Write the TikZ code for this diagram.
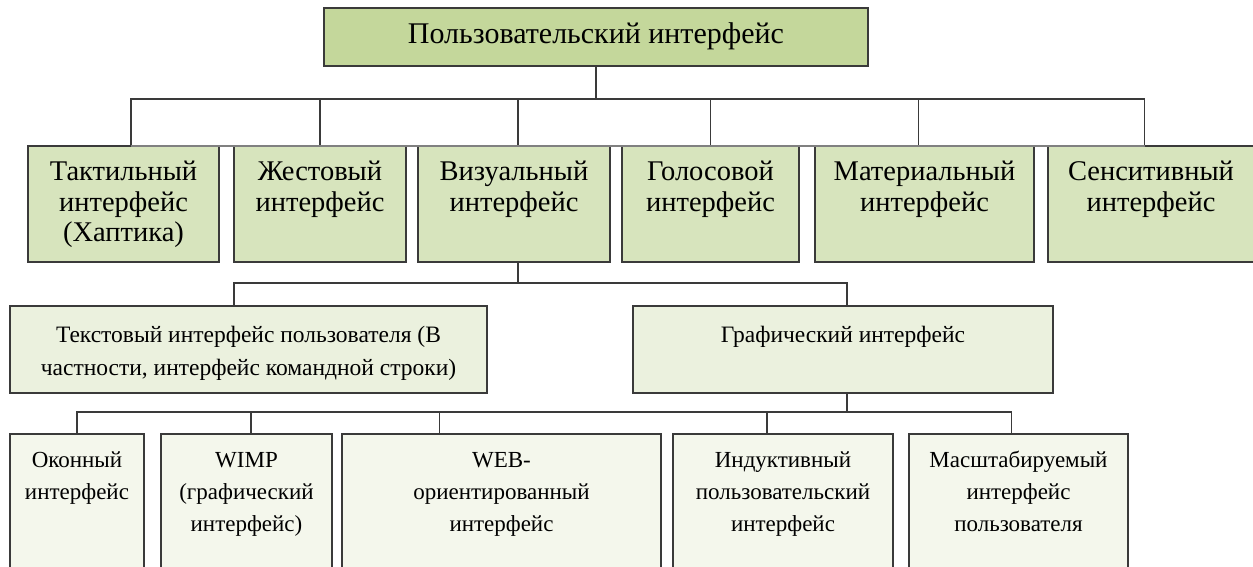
\documentclass[tikz,border=0pt]{standalone}
\usepackage{fontspec}
\setmainfont{Liberation Serif}
\usetikzlibrary{calc}
\definecolor{lc}{HTML}{3A3A3A}
\definecolor{bus}{HTML}{808080}
\definecolor{cA}{HTML}{C4D79B}
\definecolor{cB}{HTML}{D7E4BD}
\definecolor{cC}{HTML}{EBF1DE}
\definecolor{cD}{HTML}{F4F7EC}
\newcommand\bt[4]{\parbox[c][#2pt][t]{#1pt}{\centering\rule{0pt}{#3pt}#4}}
\begin{document}
\begin{tikzpicture}[x=1pt,y=-1pt,
  bx/.style={draw=lc,line width=1.3pt,inner sep=0pt,outer sep=0pt,anchor=north west},
  f0/.style={font=\fontsize{30}{34}\selectfont},
  f1/.style={font=\fontsize{28.5}{30.5}\selectfont},
  f2/.style={font=\fontsize{23.5}{33}\selectfont},
  f3/.style={font=\fontsize{23}{32}\selectfont},
  ln/.style={draw=lc,line width=1.3pt}]
\useasboundingbox (0,0) rectangle (1253,567);
\clip (0,0) rectangle (1253,567);
% level 0
\node[bx,f0,fill=cA] (top) at (324,8) {\bt{544}{58}{36}{Пользовательский интерфейс}};
% level 1
\node[bx,f1,fill=cB] (t1) at (28,146)   {\bt{191}{116}{34.5}{Тактильный\\интерфейс\\(Хаптика)}};
\node[bx,f1,fill=cB] (t2) at (234,146)  {\bt{172}{116}{34.5}{Жестовый\\интерфейс}};
\node[bx,f1,fill=cB] (t3) at (418,146)  {\bt{192}{116}{34.5}{Визуальный\\интерфейс}};
\node[bx,f1,fill=cB] (t4) at (622,146)  {\bt{177}{116}{34.5}{Голосовой\\интерфейс}};
\node[bx,f1,fill=cB] (t5) at (815,146)  {\bt{219}{116}{34.5}{Материальный\\интерфейс}};
\node[bx,f1,fill=cB] (t6) at (1048,146) {\bt{206}{116}{34.5}{Сенситивный\\интерфейс}};
% level 2
\node[bx,f2,fill=cC] (a) at (10,306)  {\bt{477}{87}{36}{Текстовый интерфейс пользователя (В\\частности, интерфейс командной строки)}};
\node[bx,f2,fill=cC] (b) at (633,306) {\bt{420}{87}{36}{Графический интерфейс}};
% level 3
\node[bx,f3,fill=cD] (c1) at (10,434)  {\bt{134}{160}{33}{Оконный\\интерфейс}};
\node[bx,f3,fill=cD] (c2) at (161,434) {\bt{171}{160}{33}{WIMP\\(графический\\интерфейс)}};
\node[bx,f3,fill=cD] (c3) at (342,434) {\bt{319}{160}{33}{WEB-\\ориентированный\\интерфейс}};
\node[bx,f3,fill=cD] (c4) at (673,434) {\bt{220}{160}{33}{Индуктивный\\пользовательский\\интерфейс}};
\node[bx,f3,fill=cD] (c5) at (909,434) {\bt{219}{160}{33}{Масштабируемый\\интерфейс\\пользователя}};
% connectors level 0 -> 1
\draw[ln] (top.south) -- ++(0,33) coordinate (j1);
\draw[ln] (j1) -| ($(t1.north)+(7.5,0)$);
\draw[ln] (j1) -| (t2.north);
\draw[ln] (j1) -| ($(t3.north)+(4,0)$);
\draw[ln] (j1) -| (t4.north);
\draw[ln] (j1) -| ($(t5.north)+(-6,0)$);
\draw[ln] (j1) -| ($(t6.north)+(-6.5,0)$);
\draw[ln,draw=bus] ($(t1.north)+(7.5,0)$ |- j1) -- ($(t6.north)+(-6.5,0)$ |- j1);
% level 1 -> 2
\draw[ln] ($(t3.south)+(4,0)$) -- ++(0,21) coordinate (j2);
\draw[ln] (j2) -| ($(a.north)+(-14.5,0)$);
\draw[ln] (j2) -| ($(b.north)+(4,0)$);
% level 2 -> 3
\draw[ln] ($(b.south)+(4,0)$) -- ++(0,19) coordinate (j3);
\draw[ln] (j3) -| (c1.north);
\draw[ln] (j3) -| ($(c2.north)+(4.5,0)$);
\draw[ln] (j3) -| ($(c3.north)+(-62,0)$);
\draw[ln] (j3) -| ($(c4.north)+(-16,0)$);
\draw[ln] (j3) -| ($(c5.north)+(-7,0)$);
\end{tikzpicture}
\end{document}
